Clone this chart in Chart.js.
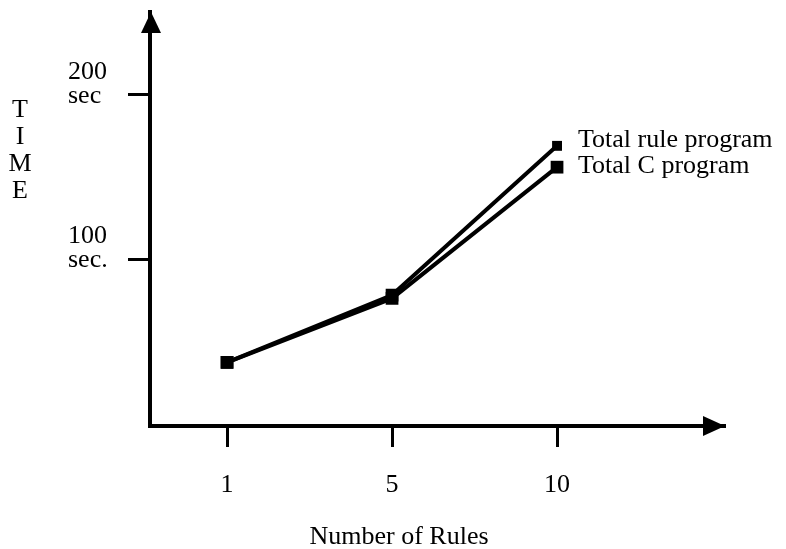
<!DOCTYPE html>
<html><head><meta charset="utf-8">
<script src="https://cdn.jsdelivr.net/npm/chart.js@4"></script>
<style>html,body{margin:0;padding:0;background:#fff}#wrap{width:786px;height:549px}</style>
</head><body><div id="wrap"><canvas id="c" width="786" height="549"></canvas></div>
<script>
const categories = ['1', '5', '10'];
const ruleProgram = [37, 78, 169];
const cProgram = [37, 76, 156];
const seriesNames = ['Total rule program', 'Total C program'];
const yTickValues = [100, 200];
const yTickLabels = [['100', 'sec.'], ['200', 'sec']];
const yAxisTitle = ['T', 'I', 'M', 'E'];
const xAxisTitle = 'Number of Rules';

const FONT = '"Liberation Serif", "Times New Roman", serif';
const toPoints = arr => arr.map((v, i) => ({x: i, y: v}));

const decor = {
  id: 'decor',
  afterDraw(chart) {
    const ctx = chart.ctx;
    const xs = chart.scales.x, ys = chart.scales.y;
    const ca = chart.chartArea;
    ctx.save();
    ctx.fillStyle = '#000';
    // arrow heads
    const ax = ca.left + 1;
    ctx.beginPath();
    ctx.moveTo(ax, ca.top);
    ctx.lineTo(ax - 10, ca.top + 21);
    ctx.lineTo(ax + 10, ca.top + 21);
    ctx.closePath();
    ctx.fill();
    const ay = ca.bottom;
    ctx.beginPath();
    ctx.moveTo(ca.right, ay);
    ctx.lineTo(ca.right - 22, ay - 10);
    ctx.lineTo(ca.right - 22, ay + 10);
    ctx.closePath();
    ctx.fill();
    // vertical axis title
    ctx.font = '26px ' + FONT;
    ctx.textAlign = 'center';
    ctx.textBaseline = 'alphabetic';
    yAxisTitle.forEach((ch, i) => ctx.fillText(ch, 20, 117 + i * 27));
    // x axis title
    ctx.fillText(xAxisTitle, 399, 544);
    // series labels at last points
    ctx.textAlign = 'left';
    ctx.textBaseline = 'middle';
    const last = categories.length - 1;
    const px = xs.getPixelForValue(last) + 21;
    ctx.fillText(seriesNames[0], px, ys.getPixelForValue(ruleProgram[last]) - 6);
    ctx.fillText(seriesNames[1], px, ys.getPixelForValue(cProgram[last]) - 1);
    ctx.restore();
  }
};

new Chart(document.getElementById('c'), {
  type: 'line',
  data: {
    datasets: [
      {label: seriesNames[0], data: toPoints(ruleProgram), borderColor: '#000', backgroundColor: '#000',
       borderWidth: 4, pointStyle: 'rect', pointRadius: [9, 9, 7], pointBorderWidth: 0, tension: 0},
      {label: seriesNames[1], data: toPoints(cProgram), borderColor: '#000', backgroundColor: '#000',
       borderWidth: 4, pointStyle: 'rect', pointRadius: 9, pointBorderWidth: 0, tension: 0}
    ]
  },
  options: {
    responsive: false,
    animation: false,
    devicePixelRatio: 1,
    layout: {padding: {left: 68, right: 61, top: 12, bottom: 0}},
    plugins: {legend: {display: false}, tooltip: {enabled: false}},
    scales: {
      x: {
        type: 'linear',
        min: -0.467, max: 3.018,
        afterBuildTicks: s => { s.ticks = categories.map((c, i) => ({value: i})); },
        afterFit: s => { s.height = 123; s.paddingLeft = 0; s.paddingRight = 0; },
        grid: {drawOnChartArea: false, drawTicks: true, tickLength: 21, tickWidth: 3, tickColor: '#000'},
        border: {display: true, color: '#000', width: 4},
        ticks: {color: '#000', padding: 23, font: {family: FONT, size: 26}, maxRotation: 0,
                callback: v => categories[v]}
      },
      y: {
        type: 'linear',
        min: -1.8, max: 250.6,
        afterBuildTicks: s => { s.ticks = yTickValues.map(v => ({value: v})); },
        afterFit: s => { s.width = 82; s.paddingTop = 0; s.paddingBottom = 0; },
        grid: {drawOnChartArea: false, drawTicks: true, tickLength: 22, tickWidth: 3, tickColor: '#000'},
        border: {display: true, color: '#000', width: 4},
        ticks: {color: '#000', crossAlign: 'far', labelOffset: -11,
                font: {family: FONT, size: 26, lineHeight: '24px'},
                callback: v => yTickLabels[yTickValues.indexOf(v)]}
      }
    }
  },
  plugins: [decor]
});
</script>
</body></html>
